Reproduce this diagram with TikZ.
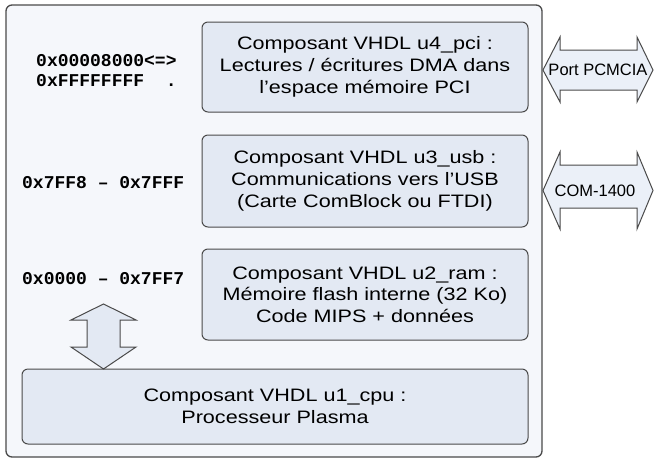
\documentclass[tikz,border=0pt]{standalone}
\usepackage{fontspec}
\setmainfont{Liberation Sans}
\newfontfamily\boxfont[FakeStretch=1.2]{Liberation Sans}
\newfontfamily\addrfont{Liberation Mono}
\definecolor{outerfill}{HTML}{F5F7FB}
\definecolor{compfill}{HTML}{E3E9F3}
\definecolor{edge}{HTML}{4A4A4A}
\definecolor{arrfill}{HTML}{EBF0F8}
\tikzset{
  outerbox/.style={draw=edge, line width=1.3pt, fill=outerfill, rounded corners=6pt},
  comp/.style={draw=edge, line width=1pt, fill=compfill, rounded corners=6pt,
    inner sep=0pt, align=center, font=\boxfont\fontsize{18}{21.7}\selectfont},
  addr/.style={inner sep=0pt, align=left, font=\addrfont\bfseries\fontsize{18}{19.5}\selectfont},
  blockarrow/.style={draw=edge, line width=1pt, fill=arrfill, line join=miter},
  arrlabel/.style={inner sep=0pt, font=\fontsize{16.5}{19}\selectfont}
}
\begin{document}
\begin{tikzpicture}[x=1pt,y=-1pt]
\useasboundingbox (0,0) rectangle (654,459);
\draw[outerbox] (6,5) rectangle (542,457);

\node[comp, minimum width=326pt, minimum height=90pt] (u4) at (365,67)
  {Composant VHDL u4\_pci :\\Lectures / écritures DMA dans\\l’espace mémoire PCI};
\node[comp, minimum width=326pt, minimum height=92pt] (u3) at (365,181)
  {Composant VHDL u3\_usb :\\Communications vers l’USB\\(Carte ComBlock ou FTDI)};
\node[comp, minimum width=326pt, minimum height=91pt] (u2) at (365,294.5)
  {Composant VHDL u2\_ram :\\Mémoire flash interne (32 Ko)\\Code MIPS + données};
\node[comp, minimum width=506pt, minimum height=75pt] (u1) at (275,406.5)
  {Composant VHDL u1\_cpu :\\Processeur Plasma};

\node[addr, anchor=west] (a4) at (36,70.5) {0x00008000<=>\\0xFFFFFFFF\ \ .};
\node[addr, anchor=west] (a3) at (22,182.5) {0x7FF8 – 0x7FFF};
\node[addr, anchor=west] (a2) at (22,279) {0x0000 – 0x7FF7};

% bus arrow between memory area and CPU
\draw[blockarrow, fill=compfill] (103.5,304) -- (136,320) -- (120,320) -- (120,347) -- (136,347)
  -- (103.5,369) -- (71,347) -- (87,347) -- (87,320) -- (71,320) -- cycle;

% external links
\draw[blockarrow] (543,70) -- (560,37) -- (560,50) -- (637,50) -- (637,37) -- (653,70)
  -- (637,102) -- (637,90) -- (560,90) -- (560,102) -- cycle;
\node[arrlabel] (pcmcia) at (598,70) {Port PCMCIA};

\draw[blockarrow] (543,190.5) -- (560,152) -- (560,165) -- (637,165) -- (637,152) -- (653,190.5)
  -- (637,229) -- (637,208) -- (560,208) -- (560,229) -- cycle;
\node[arrlabel] (com) at (595,190.5) {COM-1400};
\end{tikzpicture}
\end{document}
